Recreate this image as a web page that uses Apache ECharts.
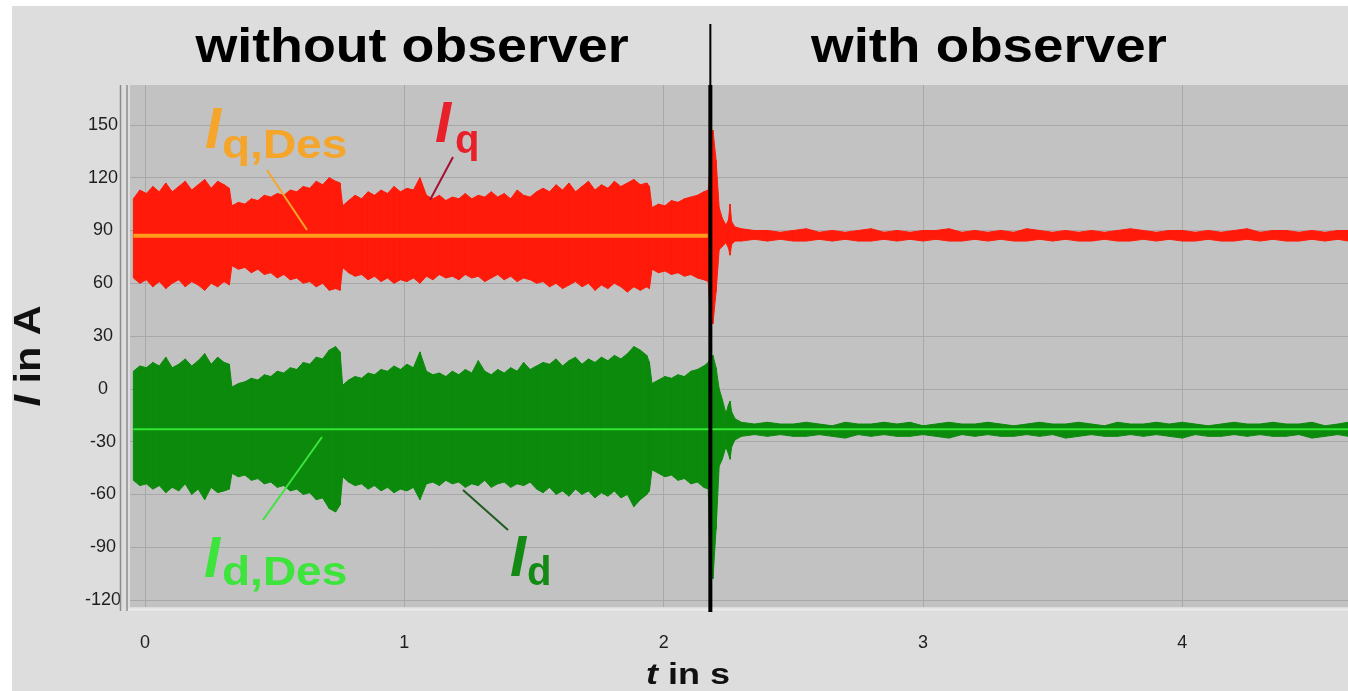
<!DOCTYPE html>
<html><head><meta charset="utf-8">
<script src="https://cdn.jsdelivr.net/npm/echarts@6/dist/echarts.min.js"></script>
<style>html,body{margin:0;padding:0;background:#fff;}#c{width:1348px;height:691px;}</style>
</head><body><div id="c"></div>
<script>
// ---- data ----
const X_TICKS = [0, 1, 2, 3, 4];
const Y_TICKS = [-120, -90, -60, -30, 0, 30, 60, 90, 120, 150];
const SWITCH_T = 2.18;          // observer switched on (s)

// pre-switch sample times (s) and envelope of the noisy currents (A)
const T_PRE = [-0.045,-0.02,0.005,0.03,0.055,0.08,0.105,0.13,0.155,0.18,0.205,0.23,0.255,0.28,0.305,0.325,
  0.335,0.36,0.385,0.41,0.435,0.46,0.485,0.51,0.535,0.56,0.585,0.61,0.635,0.66,0.685,0.71,0.735,0.752,
  0.762,0.785,0.81,0.835,0.86,0.885,0.91,0.935,0.96,0.985,1.01,1.035,1.06,1.085,1.11,1.135,1.16,1.185,1.21,1.235,
  1.26,1.285,1.31,1.335,1.36,1.385,1.41,1.435,1.46,1.485,1.51,1.535,1.56,1.585,1.61,1.635,1.66,1.685,1.71,1.735,
  1.76,1.785,1.81,1.835,1.86,1.885,1.91,1.935,1.945,
  1.955,1.98,2.005,2.03,2.055,2.08,2.105,2.13,2.155,2.172];
const IQ_UP_PRE = [108,113,111,115,112,117,112,115,118,113,116,119,114,118,116,114,
  104,106,105,108,107,110,109,111,110,113,112,115,114,118,116,120,118,117,
  104,107,110,108,112,110,113,111,115,112,114,113,120,110,108,110,107,109,108,111,
  108,110,109,112,109,111,108,113,110,109,112,114,112,116,113,117,112,115,118,113,
  116,114,118,115,117,119,116,117,115,
  103,105,104,107,106,108,109,110,112,113];
const IQ_LO_PRE = [63,60,62,58,61,57,60,62,58,61,59,56,60,58,61,59,
  70,68,69,66,68,65,66,63,65,62,63,60,61,58,60,56,57,56,
  69,66,64,65,62,64,61,63,60,62,61,63,60,64,62,65,63,64,62,65,
  63,64,61,63,65,62,64,61,63,62,60,61,58,60,57,59,61,58,60,56,
  59,57,60,58,55,58,56,58,57,
  68,66,67,65,66,64,65,63,62,61];
const ID_UP_PRE = [10,13,12,15,13,18,12,14,17,13,16,20,14,18,15,14,
  1,3,4,6,5,8,7,10,9,12,11,15,14,18,17,22,24,21,
  2,5,7,6,9,8,11,10,13,11,14,12,21,10,8,9,7,10,8,11,
  9,16,10,8,11,9,12,10,15,11,13,15,14,17,13,16,18,14,17,15,
  18,16,19,17,20,24,22,19,15,
  3,5,7,6,8,7,10,11,13,15];
const ID_LO_PRE = [-52,-55,-54,-57,-55,-59,-56,-58,-54,-60,-57,-63,-56,-59,-58,-57,
  -48,-50,-49,-52,-51,-54,-53,-56,-55,-58,-57,-60,-59,-63,-62,-68,-70,-66,
  -50,-53,-55,-54,-57,-55,-58,-56,-59,-57,-58,-56,-63,-54,-53,-55,-52,-54,-53,-56,
  -54,-55,-52,-56,-54,-53,-56,-54,-55,-53,-57,-59,-56,-60,-58,-61,-57,-60,-58,-62,
  -59,-61,-58,-62,-60,-67,-63,-60,-58,
  -46,-48,-50,-49,-52,-51,-54,-53,-56,-57];

// post-switch sample times (s) and envelopes (A)
const T_POST = [2.172,2.178,2.19,2.202,2.214,2.226,2.24,2.25,2.256,2.262,2.275,
  2.3,2.35,2.4,2.45,2.5,2.55,2.6,2.65,2.7,2.75,2.8,2.85,2.9,2.95,3.0,3.05,3.1,3.15,3.2,3.25,3.3,3.35,
  3.4,3.45,3.5,3.55,3.6,3.65,3.7,3.75,3.8,3.85,3.9,3.95,4.0,4.05,4.1,4.15,4.2,4.25,4.3,4.35,4.4,4.45,
  4.5,4.55,4.6,4.64];
const IQ_UP_POST = [113,125,147,130,103,97,93,96,105,95,92,
  91,90,90,89,90,91,89,90,89,90,91,89, 90,89,90,90,91,89,90,89,90,89,91,90,
  89,90,89,90,89,90,91,90,89,90,90,89, 90,89,90,91,89,90,90,89,90,89,90,90];
const IQ_LO_POST = [61,45,37,55,79,81,83,80,76,82,84,
  84,85,84,85,84,84,85,84,85,84,84,85, 84,85,84,85,84,84,85,84,85,84,84,85,
  84,85,84,84,85,84,84,85,84,85,84,84, 85,84,84,85,84,85,84,84,85,84,85,84];
const ID_UP_POST = [15,17,19,12,0,-6,-14,-9,-7,-13,-17,
  -19,-20,-19,-20,-20,-19,-20,-21,-19,-20,-20,-19, -20,-19,-21,-20,-19,-20,-20,-19,-20,-21,-20,-19,
  -20,-20,-19,-20,-21,-19,-20,-20,-19,-20,-19,-20, -21,-20,-19,-20,-20,-19,-20,-20,-19,-21,-20,-19];
const ID_LO_POST = [-57,-105,-108,-80,-44,-40,-33,-37,-40,-33,-29,
  -27,-26,-27,-26,-27,-27,-26,-27,-28,-26,-27,-26, -27,-27,-26,-27,-28,-26,-27,-26,-27,-27,-26,-27,
  -26,-28,-27,-26,-27,-27,-26,-27,-26,-27,-28,-26, -27,-27,-26,-27,-26,-27,-27,-26,-28,-27,-26,-27];

// reference (desired) currents
const T_DES = [-0.045, 4.64];
const IQ_DES = [87, 87];
const ID_DES = [-23, -23];

// ---- chart ----
const FONT = 'Liberation Sans, Arial, Helvetica, sans-serif';
const RED = '#ff1a0a', ORANGE = '#ff9c1c', GREEN = '#0b8a0b', LGREEN = '#33e633';
const zip = (t, v) => t.map((x, i) => [x, v[i]]);

// filled envelope band: one quad per pair of neighbouring samples
function band(name, t, up, lo, color, z) {
  const data = t.slice(0, -1).map((x, i) => [x, lo[i], up[i], t[i + 1], lo[i + 1], up[i + 1]]);
  return {
    name: name, type: 'custom', z: z, silent: true, clip: true,
    encode: { x: [0, 3], y: [1, 2, 4, 5] },
    data: data,
    renderItem: function (params, api) {
      const a = api.coord([api.value(0), api.value(2)]);
      const b = api.coord([api.value(3), api.value(5)]);
      const c = api.coord([api.value(3), api.value(4)]);
      const d = api.coord([api.value(0), api.value(1)]);
      return { type: 'polygon', shape: { points: [a, b, c, d] },
        style: { fill: color, stroke: color, lineWidth: 1 } };
    }
  };
}

const chart = echarts.init(document.getElementById('c'), null, { renderer: 'canvas' });
chart.setOption({
  animation: false,
  backgroundColor: '#dddddd',
  grid: { left: 130, right: 0, top: 85, bottom: 84, show: true, backgroundColor: '#c2c2c2', borderWidth: 0 },
  xAxis: {
    type: 'value', min: -0.058, max: 4.639,
    axisLine: { show: false }, axisTick: { show: false, customValues: X_TICKS },
    splitLine: { show: true, lineStyle: { color: '#a8a8a8', width: 1 } },
    axisLabel: { customValues: X_TICKS, margin: 27, fontSize: 18, color: '#1e1e1e', fontFamily: FONT }
  },
  yAxis: {
    type: 'value', min: -124, max: 172.7,
    axisLine: { show: false }, axisTick: { show: false, customValues: Y_TICKS },
    splitLine: { show: true, lineStyle: { color: '#a8a8a8', width: 1 } },
    axisLabel: { customValues: Y_TICKS, margin: 27, align: 'center', fontSize: 18, color: '#1e1e1e', fontFamily: FONT }
  },
  series: [
    band('iqPre', T_PRE, IQ_UP_PRE, IQ_LO_PRE, RED, 3),
    { name: 'Iq,Des', type: 'line', data: zip(T_DES, IQ_DES), showSymbol: false, symbol: 'none', z: 4,
      lineStyle: { color: ORANGE, width: 4 } },
    band('iqPost', T_POST, IQ_UP_POST, IQ_LO_POST, RED, 5),
    band('idPre', T_PRE, ID_UP_PRE, ID_LO_PRE, GREEN, 3),
    band('idPost', T_POST, ID_UP_POST, ID_LO_POST, GREEN, 5),
    { name: 'Id,Des', type: 'line', data: zip(T_DES, ID_DES), showSymbol: false, symbol: 'none', z: 6,
      lineStyle: { color: LGREEN, width: 2 } }
  ]
});

const sx = chart.convertToPixel({ xAxisIndex: 0 }, SWITCH_T);
function txt(x, y, text, size, color, opts) {
  return Object.assign({ type: 'text', x: x, y: y, z: 100,
    style: { text: text, font: (opts && opts.italic ? 'italic ' : '') + 'bold ' + size + 'px ' + FONT,
      fill: color, align: (opts && opts.align) || 'left', verticalAlign: 'middle' } },
    opts && opts.scaleX ? { scaleX: opts.scaleX } : {});
}
function seg(x1, y1, x2, y2, color, w) {
  return { type: 'line', z: 100, shape: { x1, y1, x2, y2 }, style: { stroke: color, lineWidth: w } };
}
chart.setOption({
  graphic: [
    { type: 'rect', z: 100, shape: { x: 0, y: 0, width: 1348, height: 6 }, style: { fill: '#ffffff' } },
    { type: 'rect', z: 100, shape: { x: 0, y: 0, width: 12, height: 691 }, style: { fill: '#ffffff' } },
    seg(120.5, 85, 120.5, 611, '#8c8c8c', 1.5),
    seg(127, 85, 127, 611, '#8c8c8c', 1.5),
    seg(128, 609.5, 1348, 609.5, '#ececec', 2),
    seg(sx, 24, sx, 85, '#000000', 2),
    seg(sx, 85, sx, 612, '#000000', 4),
    txt(412, 49, 'without observer', 48, '#000', { align: 'center', scaleX: 1.12 }),
    txt(989, 49, 'with observer', 48, '#000', { align: 'center', scaleX: 1.14 }),
    // annotations
    txt(205, 132, 'I', 58, '#f5a52a', { italic: true }),
    txt(222, 147, 'q,Des', 40, '#f5a52a', { scaleX: 1.15 }),
    seg(267, 170, 307, 230, '#f5a52a', 2),
    txt(435, 126, 'I', 58, '#e8202a', { italic: true }),
    txt(455, 142, 'q', 40, '#e8202a', {}),
    seg(453, 157, 430, 200, '#a5102e', 2),
    txt(204, 561, 'I', 58, '#3ce43c', { italic: true }),
    txt(222, 574, 'd,Des', 40, '#3ce43c', { scaleX: 1.15 }),
    seg(263, 520, 322, 437, '#3ce43c', 2),
    txt(510, 560, 'I', 58, '#148a14', { italic: true }),
    txt(527, 574, 'd', 40, '#148a14', {}),
    seg(463, 490, 508, 530, '#1f5a1f', 2),
    // axis names
    { type: 'text', x: 30, y: 356, rotation: Math.PI / 2, scaleX: 1.15, z: 100,
      style: { text: '{i|I}{n| in A}', align: 'center', verticalAlign: 'middle',
        rich: { i: { font: 'italic bold 36px ' + FONT, fill: '#111' }, n: { font: 'bold 36px ' + FONT, fill: '#111' } } } },
    { type: 'text', x: 688, y: 676, scaleX: 1.2, z: 100,
      style: { text: '{i|t}{n| in s}', align: 'center', verticalAlign: 'middle',
        rich: { i: { font: 'italic bold 30px ' + FONT, fill: '#111' }, n: { font: 'bold 30px ' + FONT, fill: '#111' } } } }
  ]
});
</script></body></html>
